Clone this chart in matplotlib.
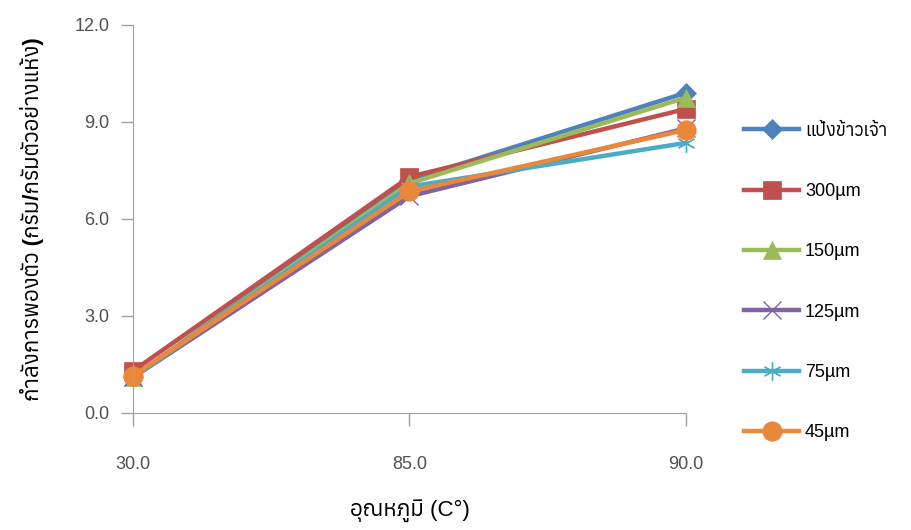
import matplotlib
matplotlib.use("Agg")
import matplotlib.pyplot as plt
from matplotlib import font_manager as fm

# หาฟอนต์ที่มีอักษรไทย (ถ้ามี)
thai_fonts = []
for path in fm.findSystemFonts():
    try:
        f = fm.get_font(path)
        if 0x0E01 in f.get_charmap():
            fm.fontManager.addfont(path)
            thai_fonts.append(fm.FontProperties(fname=path).get_name())
    except Exception:
        pass

plt.rcParams['font.family'] = ['Liberation Sans'] + sorted(set(thai_fonts)) + ['DejaVu Sans']

temps = ['30.0', '85.0', '90.0']
labels = ['แป้งข้าวเจ้า', '300µm', '150µm', '125µm', '75µm', '45µm']
rice = [1.1, 7.2, 9.9]
s300 = [1.3, 7.3, 9.4]
s150 = [1.1, 7.1, 9.75]
s125 = [1.1, 6.7, 8.8]
s75 = [1.1, 7.0, 8.35]
s45 = [1.15, 6.85, 8.75]

series = [rice, s300, s150, s125, s75, s45]
colors = ['#4F81BD', '#C0504D', '#9BBB59', '#8064A2', '#4BACC6', '#E9883A']
markers = ['D', 's', '^', 'x', (6, 2, 0), 'o']
msizes = [10, 13, 13, 13, 13, 14]

fig = plt.figure(figsize=(9.12, 5.3), dpi=100)
ax = fig.add_axes([0.146, 0.221, 0.606, 0.732])

x = range(len(temps))
for ys, lab, c, m, ms in zip(series, labels, colors, markers, msizes):
    thin = m == 'x' or isinstance(m, tuple)
    ax.plot(x, ys, color=c, lw=3.2, marker=m, markersize=ms, label=lab,
            markeredgewidth=1.0 if thin else 0.5, markeredgecolor=c,
            clip_on=False)

ax.set_xlim(0, 2)
ax.set_ylim(0, 12)
ax.set_xticks(list(x))
ax.set_xticklabels(temps)
ax.set_yticks([0, 3, 6, 9, 12])
ax.set_yticklabels(['0.0', '3.0', '6.0', '9.0', '12.0'])
for s in ['top', 'right']:
    ax.spines[s].set_visible(False)
for s in ['left', 'bottom']:
    ax.spines[s].set_color('#A0A0A0')
ax.tick_params(colors='#A0A0A0', labelcolor='#505050', labelsize=13, length=9, width=1)
ax.tick_params(axis='x', pad=22)
ax.tick_params(axis='y', pad=8)

ax.set_xlabel('อุณหภูมิ (C°)', fontsize=16, labelpad=19)
ax.set_ylabel('กำลังการพองตัว (กรัม/กรัมตัวอย่างแห้ง)', fontsize=16,
              fontweight='bold', labelpad=22)

ax.legend(loc='upper left', bbox_to_anchor=(1.075, 0.79), frameon=False,
          fontsize=13, labelspacing=2.4, handlelength=3.1, handletextpad=0.3)

fig.savefig('out.png', dpi=100)
